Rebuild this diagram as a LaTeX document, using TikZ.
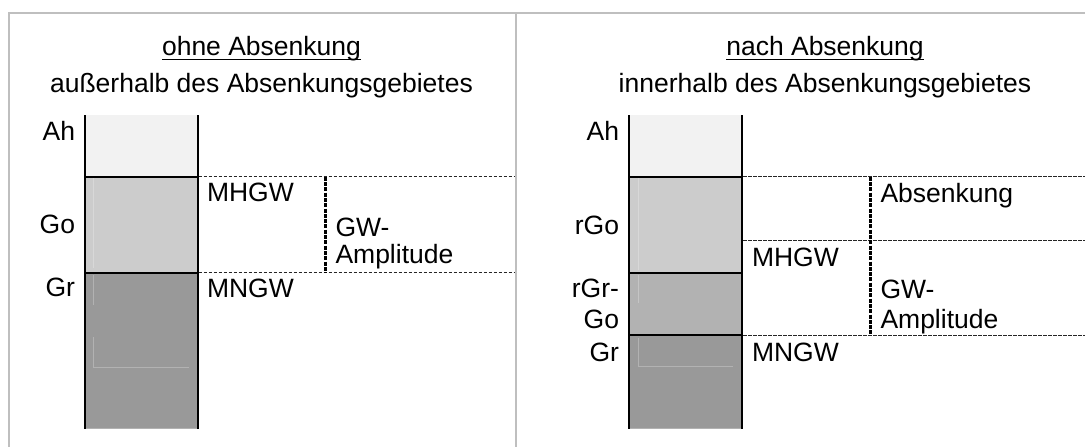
\documentclass[tikz,border=0pt]{standalone}
\usepackage{fontspec}
\setmainfont{Liberation Sans}
\definecolor{framegray}{HTML}{BFBFBF}
\definecolor{ahfill}{HTML}{F2F2F2}
\definecolor{gofill}{HTML}{CCCCCC}
\definecolor{grgofill}{HTML}{B2B2B2}
\definecolor{grfill}{HTML}{999999}
\begin{document}
\begin{tikzpicture}[x=1pt,y=-1pt,
  lbl/.style={inner sep=0pt, outer sep=0pt, font=\fontsize{26.5}{31}\selectfont},
  frameline/.style={draw=framegray, line width=2pt},
  colside/.style={draw=black, line width=2.2pt},
  bottomline/.style={draw=black!30, line width=1pt},
  levelline/.style={draw=black!85, line width=1pt, dash pattern=on 3.3pt off 1.7pt},
  rangeline/.style={draw=black, line width=2.6pt, dash pattern=on 4pt off 1.3pt},
  faint/.style={draw=white, opacity=0.25, line width=0.8pt},
  uline/.style={draw=black, line width=1.4pt}]
\useasboundingbox (0,0) rectangle (1085,447);

% frame
\draw[frameline] (8,13) -- (1085,13);
\draw[frameline] (9,12) -- (9,447);
\draw[frameline] (515.7,13) -- (515.7,447);

% ---------------- left panel ----------------
\node[lbl, anchor=base] (t1) at (261.5,55) {ohne Absenkung};
\draw[uline] ([yshift=-4.3pt]t1.base west) -- ([yshift=-4.3pt]t1.base east);
\node[lbl, anchor=base] (s1) at (261.5,92.7) {außerhalb des Absenkungsgebietes};

\fill[ahfill] (85,115) rectangle (198,176.7);
\fill[gofill] (85,176.7) rectangle (198,272.7);
\fill[grfill] (85,272.7) rectangle (198,428.3);
\draw[faint] (93.5,178) -- (93.5,268);
\draw[faint] (93.5,275) -- (93.5,305);
\draw[faint] (93.5,337) -- (93.5,367) -- (189,367);
\draw[bottomline] (86,428) -- (197,428);
\draw[colside] (85.3,115) -- (85.3,428.8);
\draw[colside] (197.7,115) -- (197.7,428.8);
\draw[colside] (85.3,176.7) -- (197.7,176.7);
\draw[colside] (85.3,272.7) -- (197.7,272.7);

\draw[levelline] (198.7,176.7) -- (515,176.7);
\draw[levelline] (198.7,272.7) -- (515,272.7);
\draw[rangeline] (325.5,176.7) -- (325.5,272.7);

\node[lbl, anchor=base east] (ah1) at (75,140) {Ah};
\node[lbl, anchor=base east] (go1) at (75,233) {Go};
\node[lbl, anchor=base east] (gr1) at (75,296.7) {Gr};
\node[lbl, anchor=base west] (mh1) at (207,201.7) {MHGW};
\node[lbl, anchor=base west] (mn1) at (207,297.3) {MNGW};
\node[lbl, anchor=base west] (gw1) at (335.5,236.7) {GW-};
\node[lbl, anchor=base west] (am1) at (335.5,263.3) {Amplitude};

% ---------------- right panel ----------------
\node[lbl, anchor=base] (t2) at (825,55) {nach Absenkung};
\draw[uline] ([yshift=-4.3pt]t2.base west) -- ([yshift=-4.3pt]t2.base east);
\node[lbl, anchor=base] (s2) at (825,92.7) {innerhalb des Absenkungsgebietes};

\fill[ahfill] (629,115) rectangle (742.5,176.7);
\fill[gofill] (629,176.7) rectangle (742.5,272.7);
\fill[grgofill] (629,272.7) rectangle (742.5,335.3);
\fill[grfill] (629,335.3) rectangle (742.5,428.3);
\draw[faint] (638.5,178) -- (638.5,270);
\draw[faint] (638.5,275) -- (638.5,303);
\draw[faint] (638.5,338) -- (638.5,366.7) -- (733,366.7);
\draw[bottomline] (630,428) -- (741.5,428);
\draw[colside] (629.3,115) -- (629.3,428.8);
\draw[colside] (742.2,115) -- (742.2,428.8);
\draw[colside] (629.3,176.7) -- (742.2,176.7);
\draw[colside] (629.3,272.7) -- (742.2,272.7);
\draw[colside] (629.3,335.3) -- (742.2,335.3);

\draw[levelline] (743.2,176.7) -- (1085,176.7);
\draw[levelline] (743.2,240) -- (1085,240);
\draw[levelline] (743.2,335.3) -- (1085,335.3);
\draw[rangeline] (870.5,176.7) -- (870.5,335.3);

\node[lbl, anchor=base east] (ah2) at (619,140) {Ah};
\node[lbl, anchor=base east] (rgo2) at (619,234) {rGo};
\node[lbl, anchor=base east] (rgr2) at (619,297) {rGr-};
\node[lbl, anchor=base east] (go2) at (619,328.3) {Go};
\node[lbl, anchor=base east] (gr2) at (619,361) {Gr};
\node[lbl, anchor=base west] (mh2) at (752,266) {MHGW};
\node[lbl, anchor=base west] (mn2) at (752,361) {MNGW};
\node[lbl, anchor=base west] (ab2) at (880.5,202.3) {Absenkung};
\node[lbl, anchor=base west] (gw2) at (880.5,298.3) {GW-};
\node[lbl, anchor=base west] (am2) at (880.5,328.3) {Amplitude};
\end{tikzpicture}
\end{document}
